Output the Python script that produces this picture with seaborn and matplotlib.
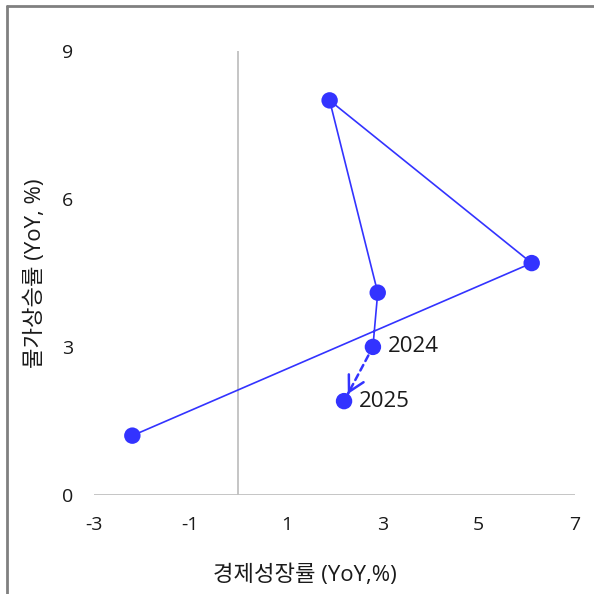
import numpy as np
import pandas as pd
import matplotlib
matplotlib.use('Agg')
import matplotlib.pyplot as plt
from matplotlib.lines import Line2D
import seaborn as sns

# 경제성장률 / 물가상승률 (YoY, %)
years = ['2020', '2021', '2022', '2023', '2024', '2025']
growth = [-2.2, 6.1, 1.9, 2.9, 2.8, 2.2]
inflation = [1.2, 4.7, 8.0, 4.1, 3.0, 1.9]
x_ticks = [-3, -1, 1, 3, 5, 7]
y_ticks = [0, 3, 6, 9]
labeled_years = ['2024', '2025']

df = pd.DataFrame({'year': years, 'growth': growth, 'inflation': inflation})
actual = df[df['year'] != '2025']

sns.set_style('white')
plt.rcParams['font.family'] = ['Open Sans', 'Noto Sans CJK KR', 'DejaVu Sans']
plt.rcParams['axes.unicode_minus'] = False

blue = '#3333ff'
txt = '#1a1a1a'

fig = plt.figure(figsize=(5.94, 5.94), dpi=100)
ax = fig.add_axes([0.158, 0.167, 0.81, 0.747])

# 기준선 (x=0, y=0)
ax.axhline(0, color='#c0c0c0', lw=1.3, zorder=1)
ax.axvline(0, color='#c0c0c0', lw=1.3, zorder=1)

sns.lineplot(data=actual, x='growth', y='inflation', sort=False,
             color=blue, lw=1.2, ax=ax, zorder=2)
sns.scatterplot(data=df, x='growth', y='inflation', color=blue,
                s=140, edgecolor='none', ax=ax, zorder=3)

# 2024 -> 2025 전망 화살표: 점선 몸통 + 실선 머리
p24 = df.loc[df['year'] == '2024', ['growth', 'inflation']].to_numpy()[0]
p25 = df.loc[df['year'] == '2025', ['growth', 'inflation']].to_numpy()[0]
tip = p25 + 0.13 * (p24 - p25)
ax.annotate('', xy=tuple(tip), xytext=tuple(p24),
            arrowprops=dict(arrowstyle='-', color=blue, lw=1.8,
                            linestyle=(0, (2.5, 1.8)), shrinkA=7, shrinkB=0),
            zorder=2)
ax.annotate('', xy=tuple(tip), xytext=tuple(p25 + 0.14 * (p24 - p25)),
            arrowprops=dict(arrowstyle='->,head_length=0.55,head_width=0.3',
                            color=blue, lw=1.8, shrinkA=0, shrinkB=0,
                            mutation_scale=20),
            zorder=2)

for yr in labeled_years:
    row = df[df['year'] == yr].iloc[0]
    ax.annotate(yr, (row['growth'], row['inflation']), xytext=(11, 0),
                textcoords='offset points', va='center', ha='left',
                fontsize=16, color=txt)

ax.set_xlim(-3, 7)
ax.set_ylim(0, 9)
ax.set_xticks(x_ticks)
ax.set_yticks(y_ticks)
ax.tick_params(axis='both', length=0, labelsize=14, colors=txt)
ax.tick_params(axis='x', pad=15)
ax.tick_params(axis='y', pad=15)
for s in ax.spines.values():
    s.set_visible(False)

ax.set_xlabel('경제성장률 (YoY,%)', fontsize=16, color=txt, labelpad=22,
              x=0.438)
ax.set_ylabel('물가상승률 (YoY, %)', fontsize=16, color=txt, labelpad=11)

# 바깥 테두리 (위, 왼쪽)
fig.add_artist(Line2D([0.012, 1.0], [0.99, 0.99], color='#808080', lw=2,
                      transform=fig.transFigure))
fig.add_artist(Line2D([0.012, 0.012], [0.0, 0.99], color='#808080', lw=2,
                      transform=fig.transFigure))

fig.savefig('out.png', dpi=100)
